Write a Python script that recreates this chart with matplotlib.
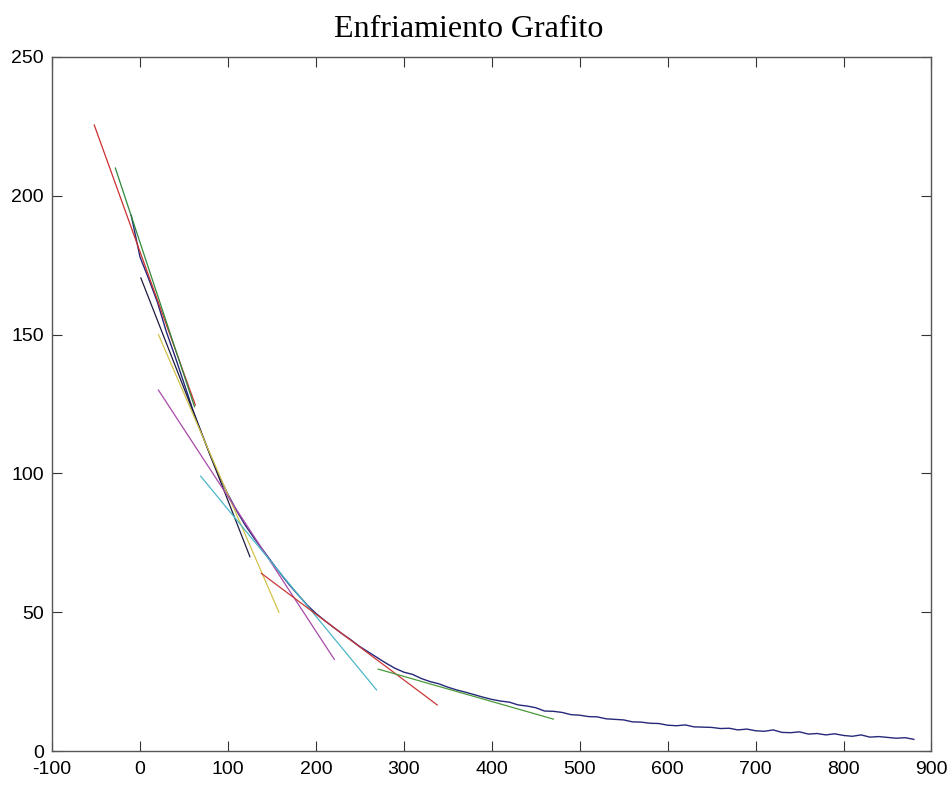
import matplotlib
matplotlib.use("Agg")
import matplotlib.pyplot as plt

# Cooling curve of graphite: time vs temperature
time = [-10, 0, 10, 20, 30, 40, 50, 60, 70, 80, 90, 100, 110, 120, 130, 140,
        150, 160, 170, 180, 190, 200, 210, 220, 230, 240, 250, 260, 270, 280,
        290, 300, 310, 320, 330, 340, 350, 360, 370, 380, 390, 400, 410, 420,
        430, 440, 450, 460, 470, 480, 490, 500, 510, 520, 530, 540, 550, 560,
        570, 580, 590, 600, 610, 620, 630, 640, 650, 660, 670, 680, 690, 700,
        710, 720, 730, 740, 750, 760, 770, 780, 790, 800, 810, 820, 830, 840,
        850, 860, 870, 880]
temp = [193, 178, 170, 161.5, 151, 142, 132.5, 123, 114.5, 106.5, 99, 92.5,
        86.5, 81.2, 76.6, 72.3, 68.0, 63.8, 59.8, 56.2, 52.6, 49.6, 47.0, 44.6,
        42.2, 40.0, 37.6, 35.6, 33.6, 31.6, 29.8, 28.4, 27.6, 26.1, 25.0, 24.2,
        23.0, 22.0, 21.2, 20.3, 19.4, 18.6, 18.0, 17.6, 16.6, 16.2, 15.6, 14.4,
        14.3, 13.9, 13.1, 12.9, 12.4, 12.3, 11.6, 11.4, 11.2, 10.5, 10.4, 10.0,
        9.9, 9.3, 9.1, 9.4, 8.7, 8.6, 8.5, 8.1, 8.2, 7.6, 7.9, 7.3, 7.1, 7.6,
        6.7, 6.6, 6.9, 6.1, 6.3, 5.8, 6.2, 5.6, 5.3, 5.8, 5.0, 5.2, 4.9, 4.6,
        4.8, 4.2]

# Tangent segments: (start x, start y, end x, end y)
tan_x0 = [-52, -28, 1, 21, 21, 69, 138, 271]
tan_y0 = [225.5, 210, 170.4, 150, 130, 99, 64, 29.5]
tan_x1 = [63, 62, 125, 158, 221, 269, 338, 470]
tan_y1 = [124.6, 124, 70, 50, 33, 22, 16.6, 11.5]
tan_colors = ["#cc3030", "#2e8a3a", "#1c1c40", "#d2c24a", "#a84aa8",
              "#4ab8c8", "#c83838", "#4a9a3a"]

x_ticks = [-100, 0, 100, 200, 300, 400, 500, 600, 700, 800, 900]
y_ticks = [0, 50, 100, 150, 200, 250]

fig = plt.figure(figsize=(9.53, 7.85), dpi=100)
ax = fig.add_axes([0.0546, 0.0433, 0.9228, 0.8841])

ax.plot(time, temp, color="#26287a", lw=1.0)
for x0, y0, x1, y1, c in zip(tan_x0, tan_y0, tan_x1, tan_y1, tan_colors):
    ax.plot([x0, x1], [y0, y1], color=c, lw=0.9)

ax.set_xlim(-100, 900)
ax.set_ylim(0, 250)
ax.set_xticks(x_ticks)
ax.set_yticks(y_ticks)
ax.set_xticklabels([str(v) for v in x_ticks])
ax.set_yticklabels([str(v) for v in y_ticks])
ax.tick_params(direction="in", length=7, width=0.8, top=True, right=True,
               labelsize=14, colors="#333333", labelcolor="black")
ax.tick_params(axis="x", pad=7)
ax.tick_params(axis="y", pad=6)
for lab in ax.get_xticklabels() + ax.get_yticklabels():
    lab.set_family(["Liberation Sans", "DejaVu Sans"])
for s in ax.spines.values():
    s.set_color("#555555")
    s.set_linewidth(1.0)

ax.text(0.474, 1.019, "Enfriamiento Grafito", transform=ax.transAxes,
        ha="center", va="bottom", fontsize=23,
        family=["Liberation Serif", "DejaVu Serif"])

fig.savefig("out.png", dpi=100)
